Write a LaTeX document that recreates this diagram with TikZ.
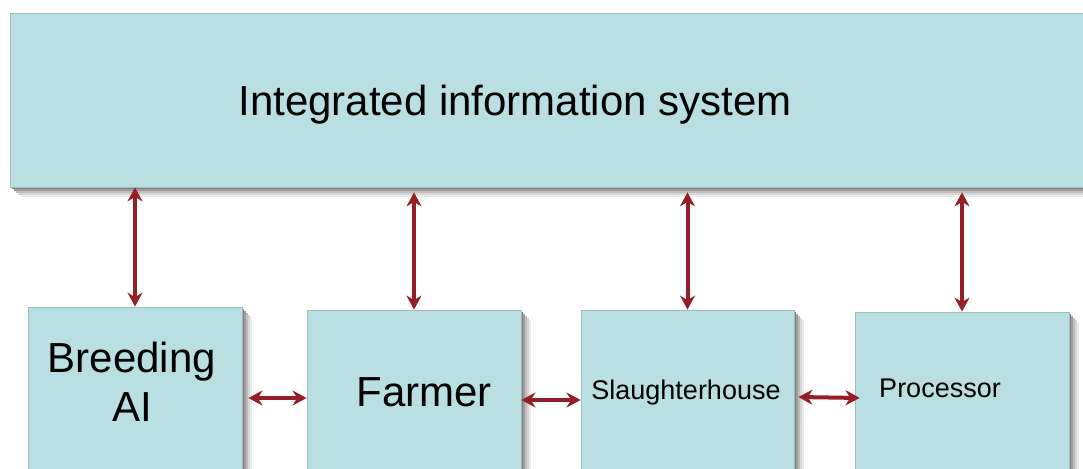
\documentclass[tikz,border=0pt]{standalone}
\usepackage{fontspec}
\setmainfont{Liberation Sans}
\usetikzlibrary{arrows.meta,backgrounds}
\definecolor{boxfill}{RGB}{186,223,227}
\definecolor{boxline}{RGB}{160,188,192}
\definecolor{arrred}{RGB}{150,30,40}
\tikzset{
  panel/.style={draw=boxline,line width=0.8pt,fill=boxfill,inner sep=0pt},
  arr/.style={draw=arrred,line width=4pt,{Stealth[length=14pt,width=15pt]}-{Stealth[length=14pt,width=15pt]}},
  bigtext/.style={font=\fontsize{42}{49}\selectfont,inner sep=0pt,anchor=base,align=center},
  smalltext/.style={font=\fontsize{27}{32}\selectfont,inner sep=0pt,anchor=base}
}
\begin{document}
\begin{tikzpicture}[x=1pt,y=-1pt]
\useasboundingbox (0,0) rectangle (1083,468);
% top box
\node[panel,minimum width=1090pt,minimum height=174pt] (sys) at (555,100) {};
\node[bigtext] (tsys) at (515,115) {Integrated information system};
% bottom boxes
\node[panel,minimum width=214pt,minimum height=170pt] (B) at (135,392) {};
\node[panel,minimum width=214pt,minimum height=166pt] (F) at (414,393) {};
\node[panel,minimum width=213pt,minimum height=166pt] (S) at (687.5,393) {};
\node[panel,minimum width=214pt,minimum height=164pt] (P) at (962,394) {};
% soft shadows (solid grey steps)
\begin{scope}[on background layer]
\fill[white] (0,0) rectangle (1083,468);
\foreach \n in {sys,B,F,S,P}{
  \foreach \d/\g in {10/8,8/16,6/26,4/38,2/50}{
    \fill[black!\g] ([shift={(\d,\d)}]\n.north west) rectangle ([shift={(\d,\d)}]\n.south east);
  }
}
\end{scope}
% labels
\node[bigtext] (tB) at (132,421) {Breeding\\AI};
\node[bigtext] (tF) at (424,406) {Farmer};
\node[smalltext] (tS) at (686,399) {Slaughterhouse};
\node[smalltext] (tP) at (940,397) {Processor};
% vertical arrows
\draw[arr] (B.north |- sys.south) -- (B.north);
\draw[arr] ([yshift=-5pt]F.north |- sys.south) -- (F.north);
\draw[arr] ([yshift=-5pt]S.north |- sys.south) -- (S.north);
\draw[arr] ([yshift=-5pt]P.north |- sys.south) -- (P.north);
% horizontal arrows
\draw[arr] ([xshift=6pt,yshift=-6pt]B.east) -- ([yshift=-5pt]F.west);
\draw[arr] ([yshift=-7pt]F.east) -- ([yshift=-7pt]S.west);
\draw[arr] ([xshift=4pt,yshift=-4pt]S.east) -- ([xshift=5pt,yshift=-4pt]P.west);
\end{tikzpicture}
\end{document}
